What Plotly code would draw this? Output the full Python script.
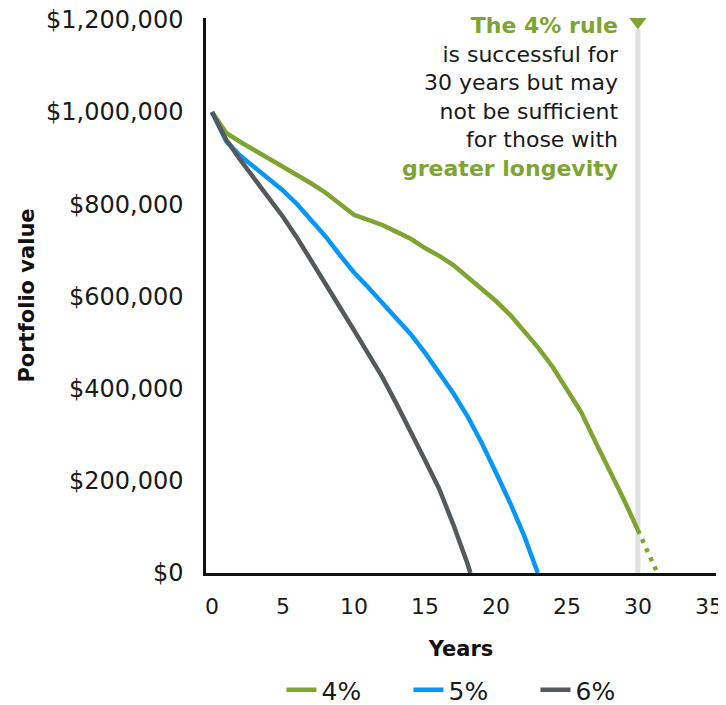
import plotly.graph_objects as go

# ---- data ----
years_4 = list(range(0, 31))
value_4 = [1000000, 955000, 935000, 917000, 899000, 883000, 864000, 845000, 825000, 801000,
           777000, 766000, 755000, 740000, 725000, 705000, 688000, 668000, 643000, 615000,
           590000, 560000, 525000, 488000, 447000, 398000, 349000, 285000, 225000, 160000,
           93000]
years_4_ext = [30, 31.3]
value_4_ext = [93000, 5000]

years_5 = list(range(0, 23)) + [22.95]
value_5 = [1000000, 937000, 905000, 880000, 855000, 830000, 800000, 765000, 730000, 690000,
           652000, 620000, 586000, 553000, 518000, 478000, 436000, 390000, 340000, 282000,
           218000, 152000, 80000, 0]

years_6 = list(range(0, 19)) + [18.2]
value_6 = [1000000, 940000, 896000, 855000, 815000, 773000, 727000, 678000, 630000, 577000,
           527000, 478000, 425000, 367000, 308000, 245000, 183000, 105000, 20000, 0]

rule_year = 30
band_top = 1180000
marker_value = 1196000

x_ticks = [0, 5, 10, 15, 20, 25, 30, 35]
y_ticks = [0, 200000, 400000, 600000, 800000, 1000000, 1200000]
y_tick_text = ["$0", "$200,000", "$400,000", "$600,000", "$800,000", "$1,000,000", "$1,200,000"]

series_names = ["4%", "5%", "6%"]
GREEN = "#7ea431"
BLUE = "#0797f7"
GRAY = "#55595d"
FONT = "DejaVu Sans"

fig = go.Figure()

# reference band at 30 years
fig.add_trace(go.Scatter(x=[rule_year, rule_year], y=[0, band_top], mode="lines",
                         line=dict(color="#dedfe1", width=5), showlegend=False, hoverinfo="skip"))
fig.add_trace(go.Scatter(x=[rule_year], y=[marker_value], mode="markers",
                         marker=dict(symbol="triangle-down", size=15, color=GREEN),
                         showlegend=False, hoverinfo="skip"))

fig.add_trace(go.Scatter(x=years_4_ext, y=value_4_ext, mode="lines",
                         line=dict(color=GREEN, width=4.5, dash="4px,6px"), showlegend=False))
fig.add_trace(go.Scatter(x=years_4, y=value_4, mode="lines", name=series_names[0],
                         line=dict(color=GREEN, width=4.5)))
fig.add_trace(go.Scatter(x=years_5, y=value_5, mode="lines", name=series_names[1],
                         line=dict(color=BLUE, width=4.5)))
fig.add_trace(go.Scatter(x=years_6, y=value_6, mode="lines", name=series_names[2],
                         line=dict(color=GRAY, width=4.5)))

note = ("<span style='color:%s'><b>The 4%% rule</b></span><br>"
        "is successful for<br>30 years but may<br>not be sufficient<br>for those with<br>"
        "<span style='color:%s'><b>greater longevity</b></span>") % (GREEN, GREEN)
fig.add_annotation(text=note, xref="paper", yref="paper", x=0.814, y=1.0135,
                   xanchor="right", yanchor="top", align="right", showarrow=False,
                   font=dict(family=FONT, size=22, color="#1a1a1a"))

fig.update_layout(
    width=718, height=697,
    margin=dict(l=198, r=10, t=10, b=132, autoexpand=False),
    paper_bgcolor="white", plot_bgcolor="white",
    font=dict(family=FONT, color="#1a1a1a"),
    showlegend=True,
    legend=dict(orientation="h", x=0.148, xanchor="left", y=-0.211, yanchor="middle",
                font=dict(family=FONT, size=25, color="#1a1a1a"),
                entrywidth=82, entrywidthmode="pixels", traceorder="normal"),
    xaxis=dict(range=[-0.42, 35.5], tickvals=x_ticks, automargin=False, ticklabeloverflow="allow",
               showgrid=False, zeroline=False, showline=True, linecolor="#111", linewidth=2.5,
               ticks="", tickfont=dict(size=22, color="#1a1a1a"), ticklabelstandoff=12,
               title=dict(text="<b>Years</b>", font=dict(size=21, color="#111"), standoff=24)),
    yaxis=dict(range=[0, 1204000], tickvals=y_ticks, ticktext=y_tick_text, automargin=False,
               ticklabeloverflow="allow",
               showgrid=False, zeroline=False, showline=True, linecolor="#111", linewidth=2.5,
               ticks="", tickfont=dict(size=24, color="#1a1a1a"), ticklabelstandoff=15,
               title=dict(text="<b>Portfolio value</b>", font=dict(size=21, color="#111"), standoff=6)),
)

fig.write_html("out.html")
